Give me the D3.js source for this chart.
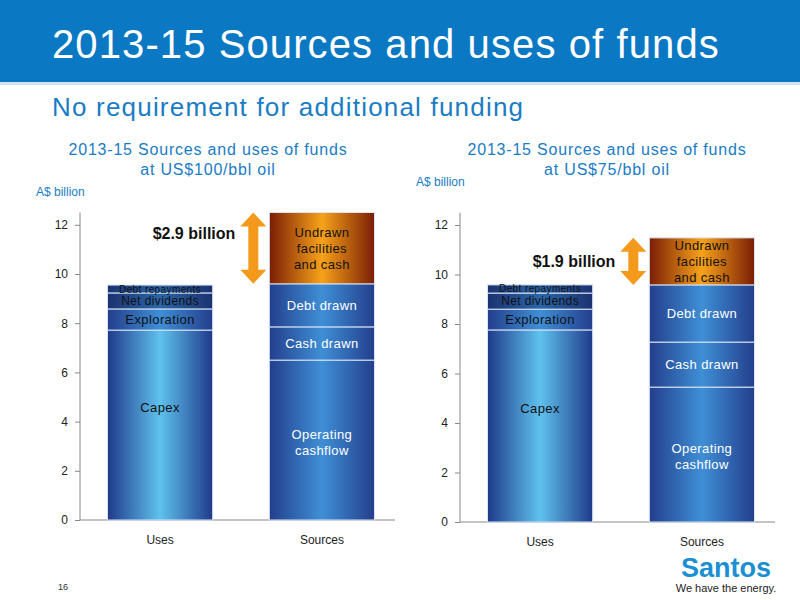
<!DOCTYPE html>
<html><head><meta charset="utf-8">
<script src="https://cdn.jsdelivr.net/npm/d3@7"></script>
<style>body{margin:0;font-family:"Liberation Sans",Arial,sans-serif}svg text{font-family:"Liberation Sans",Arial,sans-serif}</style>
</head><body>
<svg id="c" width="800" height="600"></svg>
<script>
const categories = ["Uses", "Sources"];
const usesLabels = ["Capex", "Exploration", "Net dividends", "Debt repayments"];
const sourcesLabels = ["Operating\ncashflow", "Cash drawn", "Debt drawn", "Undrawn\nfacilities\nand cash"];
const uses100 = [7.72, 0.86, 0.65, 0.32];
const sources100 = [6.5, 1.35, 1.75, 2.9];
const uses75 = [7.76, 0.84, 0.65, 0.33];
const sources75 = [5.45, 1.82, 2.31, 1.9];
const yTicks = [0, 2, 4, 6, 8, 10, 12];

const svg = d3.select("#c");
const defs = svg.append("defs");
function grad(id, edge, mid) {
  const g = defs.append("linearGradient").attr("id", id);
  g.append("stop").attr("offset", "0%").attr("stop-color", edge);
  g.append("stop").attr("offset", "50%").attr("stop-color", mid);
  g.append("stop").attr("offset", "100%").attr("stop-color", edge);
}
grad("gCapex", "#1f3a8a", "#5fc2ee");
grad("gMid", "#233e8c", "#3f8fd6");
grad("gDark", "#1c3270", "#2a66a8");
grad("gOrange", "#7a1d05", "#f7a21a");

svg.append("rect").attr("width", 800).attr("height", 82).attr("fill", "#0a78c2");
svg.append("rect").attr("y", 82).attr("width", 800).attr("height", 3).attr("fill", "#cfe3f3");
svg.append("text").attr("x", 52).attr("y", 58).attr("fill", "#fff").attr("font-size", 40).attr("letter-spacing", 1.1).text("2013-15 Sources and uses of funds");
svg.append("text").attr("x", 52).attr("y", 116).attr("fill", "#1a7cc4").attr("font-size", 26).attr("letter-spacing", 1.2).text("No requirement for additional funding");
svg.append("text").attr("x", 58).attr("y", 590).attr("font-size", 9).attr("fill", "#333").text("16");
svg.append("text").attr("x", 726).attr("y", 577).attr("text-anchor", "middle").attr("font-family", "Liberation Serif").attr("font-weight", "bold").attr("font-size", 27).attr("fill", "#1a8fd1").text("Santos");
svg.append("text").attr("x", 726).attr("y", 592).attr("text-anchor", "middle").attr("font-size", 11).attr("fill", "#222").text("We have the energy.");

function chart(opt) {
  const g = svg.append("g");
  const y = d3.scaleLinear().domain([0, 12.5]).range([opt.y0, opt.y0 - 12.5 * opt.unit]);
  const x = d3.scaleBand().domain(categories).range([opt.x0, opt.x1 + 7]).paddingInner(0.35).paddingOuter(0.17);
  opt.title.forEach((t, i) => g.append("text").attr("x", opt.tx).attr("y", 155 + i * 20).attr("text-anchor", "middle").attr("font-size", 16).attr("letter-spacing", 0.8).attr("fill", "#1a7cc4").text(t));
  g.append("text").attr("x", opt.x0 - 44).attr("y", opt.unitY).attr("font-size", 12).attr("fill", "#1a7cc4").text("A$ billion");
  g.append("g").attr("transform", `translate(${opt.x0},0)`).call(d3.axisLeft(y).tickValues(yTicks).tickSize(5).tickSizeOuter(0))
    .call(a => { a.select(".domain").attr("stroke", "#888").attr("d", `M0,${opt.y0}V${y(12.5)}`); a.selectAll("line").attr("stroke", "#888"); a.selectAll("text").attr("font-size", 12).attr("fill", "#222").attr("dx", -4); });
  g.append("line").attr("x1", opt.x0).attr("x2", opt.x1).attr("y1", opt.y0).attr("y2", opt.y0).attr("stroke", "#888");
  categories.forEach(c => g.append("text").attr("x", x(c) + x.bandwidth() / 2).attr("y", opt.y0 + 24).attr("text-anchor", "middle").attr("font-size", 12).attr("fill", "#222").text(c));

  const fillsU = ["url(#gCapex)", "url(#gMid)", "url(#gDark)", "url(#gDark)"];
  const fillsS = ["url(#gMid)", "url(#gMid)", "url(#gMid)", "url(#gOrange)"];
  function stack(cat, vals, labels, fills, sizes, dy) {
    let acc = 0;
    vals.forEach((v, i) => {
      const top = y(acc + v), bot = y(acc);
      g.append("rect").attr("x", x(cat)).attr("width", x.bandwidth()).attr("y", top).attr("height", bot - top)
        .attr("fill", fills[i]).attr("stroke", "#d8e4f4").attr("stroke-width", 1);
      const lines = labels[i].split("\n");
      const cy = (top + bot) / 2 + (dy[i] || 0);
      lines.forEach((l, k) => g.append("text").attr("x", x(cat) + x.bandwidth() / 2)
        .attr("y", cy + (k - (lines.length - 1) / 2) * (sizes[i] + 3) + sizes[i] * 0.35)
        .attr("text-anchor", "middle").attr("font-size", sizes[i]).attr("letter-spacing", 0.4)
        .attr("fill", (i === 3 && cat === "Sources") || cat === "Uses" ? "#111" : "#fff").text(l));
      acc += v;
    });
  }
  stack("Uses", opt.uses, usesLabels, fillsU, [13, 13, 12, 10], [-18, 0, 0, 0]);
  const total = d3.sum(opt.sources.slice(0, 3));
  stack("Sources", opt.sources, sourcesLabels, fillsS, [13, 13, 13, 13], [2, 0, 0, 0]);
  const ax = x("Sources") - 16, t1 = y(total + opt.sources[3]), b1 = y(total);
  g.append("path").attr("fill", "#f39a1c")
    .attr("d", `M${ax},${t1}L${ax + 13},${t1 + 14}L${ax + 5},${t1 + 14}L${ax + 5},${b1 - 14}L${ax + 13},${b1 - 14}L${ax},${b1}L${ax - 13},${b1 - 14}L${ax - 5},${b1 - 14}L${ax - 5},${t1 + 14}L${ax - 13},${t1 + 14}Z`);
  g.append("text").attr("x", ax - 18).attr("y", (t1 + b1) / 2 + 6 + opt.bdy).attr("text-anchor", "end").attr("font-size", 16).attr("font-weight", "bold").attr("fill", "#111").text(opt.billion);
}
chart({ x0: 80, x1: 395, y0: 520, unit: 24.6, tx: 208, unitY: 196, title: ["2013-15 Sources and uses of funds", "at US$100/bbl oil"], uses: uses100, sources: sources100, billion: "$2.9 billion", bdy: -15 });
chart({ x0: 460, x1: 775, y0: 522, unit: 24.75, tx: 607, unitY: 186, title: ["2013-15 Sources and uses of funds", "at US$75/bbl oil"], uses: uses75, sources: sources75, billion: "$1.9 billion", bdy: 0 });
</script></body></html>
